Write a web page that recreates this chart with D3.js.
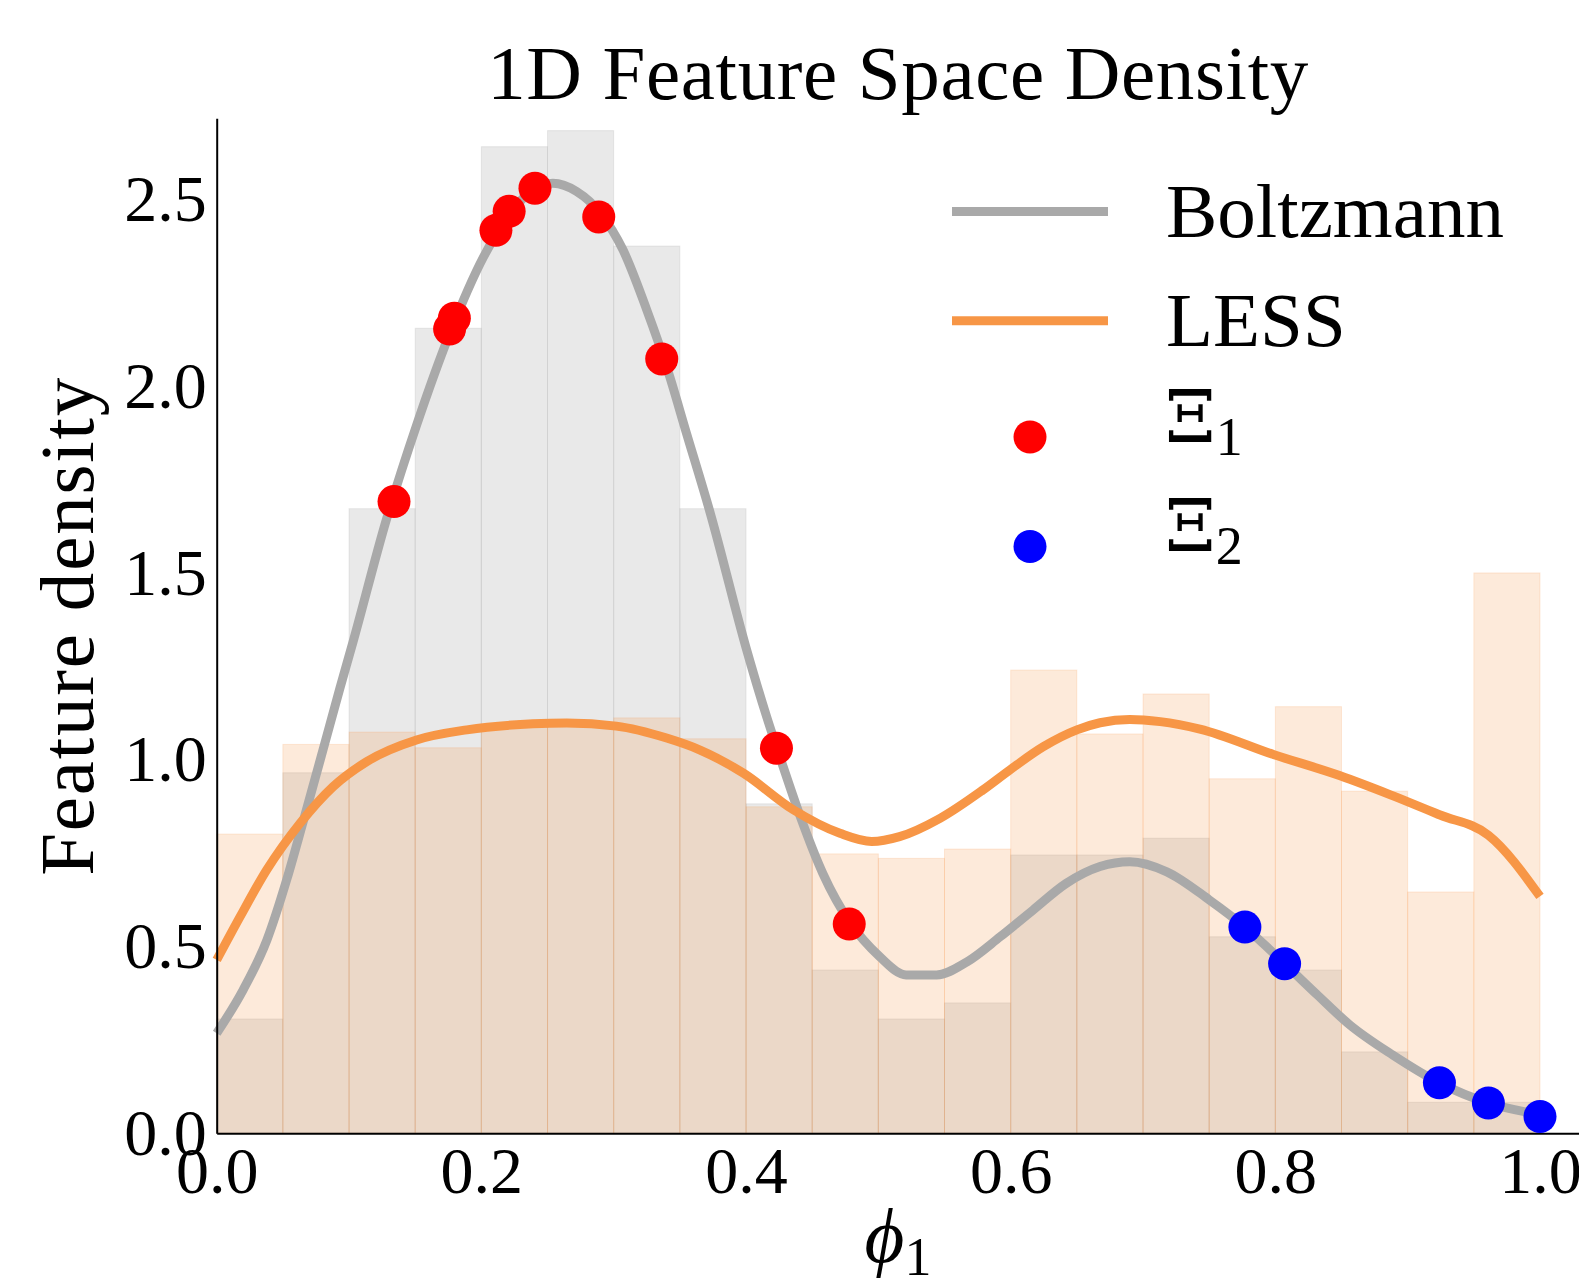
<!DOCTYPE html>
<html lang="en">
<head>
  <meta charset="UTF-8">
  <title>1D Feature Space Density</title>
  <style>
    body {
      margin: 0;
      padding: 0;
      background-color: #ffffff;
    }

    svg text {
      font-family: 'Liberation Serif', 'DejaVu Serif', serif;
      fill: #000;
    }

    .axis path {
      stroke: #000;
      stroke-width: 2px;
    }

    .axis text {
      font-size: 66px;
    }
  </style>
</head>
<body>
  <script src="https://d3js.org/d3.v7.min.js"></script>
  <script>
    // histogram bins (density, bin width 0.05)
    const binEdges = [0, 0.05, 0.1, 0.15, 0.2, 0.25, 0.3, 0.35, 0.4, 0.45, 0.5,
      0.55, 0.6, 0.65, 0.7, 0.75, 0.8, 0.85, 0.9, 0.95, 1.0];
    const boltzmannHist = [0.306, 0.965, 1.672, 2.155, 2.641, 2.684, 2.375, 1.672, 0.882, 0.437,
      0.306, 0.349, 0.745, 0.745, 0.790, 0.526, 0.437, 0.218, 0.083, 0.083];
    const lessHist = [0.801, 1.041, 1.074, 1.032, 1.092, 1.095, 1.112, 1.056, 0.874, 0.748,
      0.736, 0.761, 1.240, 1.069, 1.176, 0.949, 1.142, 0.916, 0.646, 1.500];

    // kde curves
    const boltzX = [0, 0.020, 0.038, 0.053, 0.065, 0.081, 0.093, 0.103, 0.128, 0.151, 0.176, 0.2015,
      0.222, 0.239, 0.254, 0.272, 0.290, 0.307, 0.325, 0.340, 0.355, 0.373, 0.4005, 0.4156, 0.428,
      0.441, 0.458, 0.479, 0.501, 0.521, 0.544, 0.567, 0.592, 0.617, 0.642, 0.6675, 0.690, 0.718,
      0.750, 0.777, 0.807, 0.831, 0.856, 0.889, 0.924, 0.961, 1.0];
    const boltzY = [0.268, 0.384, 0.518, 0.680, 0.830, 1.035, 1.190, 1.315, 1.640, 1.895, 2.140, 2.345,
      2.463, 2.526, 2.543, 2.521, 2.463, 2.365, 2.204, 2.052, 1.874, 1.660, 1.294, 1.115, 0.982,
      0.848, 0.696, 0.562, 0.473, 0.424, 0.424, 0.459, 0.526, 0.598, 0.669, 0.714, 0.727, 0.700,
      0.625, 0.552, 0.454, 0.373, 0.291, 0.209, 0.135, 0.081, 0.050];

    const lessX = [0, 0.0177, 0.0378, 0.063, 0.088, 0.1134, 0.151, 0.189, 0.239, 0.2645, 0.302, 0.340,
      0.3653, 0.398, 0.4357, 0.471, 0.495, 0.516, 0.5466, 0.579, 0.5995, 0.6247, 0.65, 0.6675, 0.690,
      0.713, 0.743, 0.7985, 0.849, 0.887, 0.9245, 0.961, 1.0];
    const lessY = [0.464, 0.580, 0.705, 0.830, 0.928, 0.995, 1.053, 1.080, 1.096, 1.098, 1.090, 1.058,
      1.026, 0.964, 0.866, 0.803, 0.781, 0.794, 0.843, 0.919, 0.973, 1.035, 1.080, 1.099, 1.108,
      1.102, 1.082, 1.014, 0.957, 0.906, 0.852, 0.798, 0.634];

    // selected samples
    const xi1X = [0.134, 0.176, 0.1796, 0.211, 0.221, 0.2405, 0.2887, 0.3363, 0.423, 0.478];
    const xi1Y = [1.691, 2.153, 2.182, 2.417, 2.468, 2.530, 2.453, 2.073, 1.031, 0.560];
    const xi2X = [0.777, 0.807, 0.924, 0.961, 1.0];
    const xi2Y = [0.552, 0.454, 0.135, 0.081, 0.045];

    const xTicks = [0, 0.2, 0.4, 0.6, 0.8, 1.0];
    const yTicks = [0, 0.5, 1.0, 1.5, 2.0, 2.5];

    const gray = "#a9a9a9";
    const orange = "#f79646";

    const width = 1579, height = 1278;
    const svg = d3.select("body").append("svg")
      .attr("width", width)
      .attr("height", height);

    const x = d3.scaleLinear().domain([0, 1.03]).range([216.7, 216.7 + 1.03 * 1323.3]);
    const y = d3.scaleLinear().domain([0, 2.717]).range([1133.3, 118.3]);

    function drawHist(values, color, op) {
      svg.append("g")
        .selectAll("rect")
        .data(values)
        .enter()
        .append("rect")
        .attr("x", (d, i) => x(binEdges[i]))
        .attr("width", (d, i) => x(binEdges[i + 1]) - x(binEdges[i]))
        .attr("y", (d) => y(d))
        .attr("height", (d) => y(0) - y(d))
        .attr("fill", color)
        .attr("fill-opacity", op)
        .attr("stroke", color)
        .attr("stroke-opacity", op * 0.9)
        .attr("stroke-width", 1);
    }

    drawHist(boltzmannHist, gray, 0.25);
    drawHist(lessHist, orange, 0.2);

    const line = d3.line()
      .x((d) => x(d[0]))
      .y((d) => y(d[1]))
      .curve(d3.curveMonotoneX);

    svg.append("path")
      .datum(d3.zip(boltzX, boltzY))
      .attr("d", line)
      .attr("fill", "none")
      .attr("stroke", gray)
      .attr("stroke-width", 9);

    svg.append("path")
      .datum(d3.zip(lessX, lessY))
      .attr("d", line)
      .attr("fill", "none")
      .attr("stroke", orange)
      .attr("stroke-width", 9);

    // axes (no tick marks, just spines)
    svg.append("g")
      .attr("class", "axis")
      .attr("transform", `translate(0,${y(0)})`)
      .call(d3.axisBottom(x).tickValues(xTicks).tickFormat(d3.format(".1f"))
        .tickSize(0).tickSizeOuter(0).tickPadding(13));

    svg.append("g")
      .attr("class", "axis")
      .attr("transform", `translate(${x(0)},0)`)
      .call(d3.axisLeft(y).tickValues(yTicks).tickFormat(d3.format(".1f"))
        .tickSize(0).tickSizeOuter(0).tickPadding(10));

    svg.selectAll(".axis text").attr("font-family", "'Liberation Serif', serif");

    svg.append("g")
      .selectAll("circle")
      .data(d3.zip(xi1X, xi1Y))
      .enter()
      .append("circle")
      .attr("cx", (d) => x(d[0]))
      .attr("cy", (d) => y(d[1]))
      .attr("r", 16.5)
      .attr("fill", "red");

    svg.append("g")
      .selectAll("circle")
      .data(d3.zip(xi2X, xi2Y))
      .enter()
      .append("circle")
      .attr("cx", (d) => x(d[0]))
      .attr("cy", (d) => y(d[1]))
      .attr("r", 16.5)
      .attr("fill", "blue");

    // title and axis labels
    svg.append("text")
      .attr("x", 897.7)
      .attr("y", 99)
      .attr("text-anchor", "middle")
      .attr("font-size", 77)
      .attr("textLength", 821)
      .text("1D Feature Space Density");

    svg.append("text")
      .attr("transform", "translate(93,626.8) rotate(-90)")
      .attr("text-anchor", "middle")
      .attr("font-size", 77)
      .attr("textLength", 498)
      .text("Feature density");

    const xl = svg.append("text")
      .attr("x", 898)
      .attr("y", 1262)
      .attr("text-anchor", "middle")
      .attr("font-size", 77);
    xl.append("tspan").attr("font-style", "italic").text("ϕ");
    xl.append("tspan").attr("font-size", 54).attr("dy", 13).text("1");

    // legend
    const legend = svg.append("g");
    const legLines = [
      { label: "Boltzmann", color: gray, y: 211.6, ty: 237.3 },
      { label: "LESS", color: orange, y: 320.7, ty: 346.4 },
    ];
    legLines.forEach((l) => {
      legend.append("line")
        .attr("x1", 952).attr("x2", 1108)
        .attr("y1", l.y).attr("y2", l.y)
        .attr("stroke", l.color)
        .attr("stroke-width", 9);
      legend.append("text")
        .attr("x", 1166)
        .attr("y", l.ty)
        .attr("font-size", 77)
        .text(l.label);
    });

    const legPts = [
      { sub: "1", color: "red", y: 437, ty: 442 },
      { sub: "2", color: "blue", y: 546.5, ty: 551 },
    ];
    legPts.forEach((p) => {
      legend.append("circle")
        .attr("cx", 1030).attr("cy", p.y)
        .attr("r", 16.5)
        .attr("fill", p.color);
      const t = legend.append("text")
        .attr("x", 1165)
        .attr("y", p.ty)
        .attr("font-size", 77);
      t.append("tspan").attr("font-family", "'DejaVu Serif', serif").attr("font-size", 72).text("Ξ");
      t.append("tspan").attr("font-size", 54).attr("dy", 13).text(p.sub);
    });
  </script>
</body>
</html>
